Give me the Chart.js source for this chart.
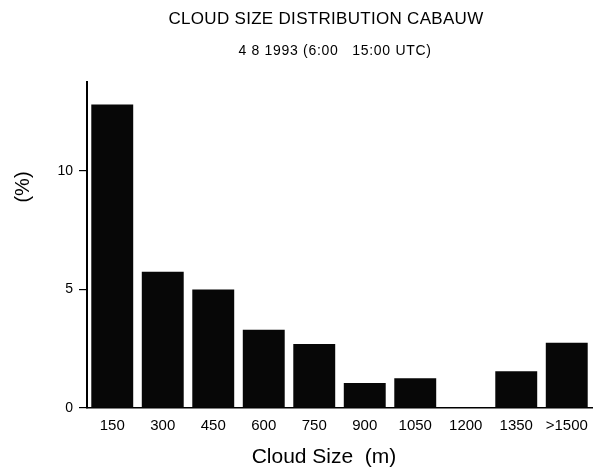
<!DOCTYPE html>
<html>
<head>
<meta charset="utf-8">
<title>Cloud Size Distribution Cabauw</title>
<script src="https://cdn.jsdelivr.net/npm/chart.js@4/dist/chart.umd.min.js"></script>
<style>
  html, body { margin: 0; padding: 0; background: #ffffff; }
  #wrap { width: 593px; height: 469px; position: relative; }
</style>
</head>
<body>
<div id="wrap"><canvas id="chart" width="593" height="469"></canvas></div>
<script>
// Cloud size classes (m) and their share of all clouds (%)
const categories = ['150', '300', '450', '600', '750', '900', '1050', '1200', '1350', '>1500'];
const percentages = [12.8, 5.75, 5.0, 3.3, 2.7, 1.05, 1.25, 0, 1.55, 2.75];
const yTickValues = [0, 5, 10];

const titleText = 'CLOUD SIZE DISTRIBUTION CABAUW';
const subtitleText = '4 8 1993 (6:00   15:00 UTC)';
const xTitleText = 'Cloud Size  (m)';
const yTitleText = '(%)';

const FONT = '"Liberation Sans", Arial, Helvetica, sans-serif';

// Headings and axis titles placed by hand around the plot area
const headingPlugin = {
  id: 'headings',
  afterDraw(chart) {
    const ctx = chart.ctx;
    ctx.save();
    ctx.fillStyle = '#000';
    ctx.textAlign = 'center';
    ctx.textBaseline = 'alphabetic';

    ctx.font = '17px ' + FONT;
    if ('letterSpacing' in ctx) ctx.letterSpacing = '0.3px';
    ctx.fillText(titleText, 326, 24);

    ctx.font = '14px ' + FONT;
    if ('letterSpacing' in ctx) ctx.letterSpacing = '0.7px';
    ctx.fillText(subtitleText, 335, 55);

    if ('letterSpacing' in ctx) ctx.letterSpacing = '0px';
    ctx.font = '21px ' + FONT;
    ctx.fillText(xTitleText, 324, 463);

    ctx.translate(29, 187);
    ctx.rotate(-Math.PI / 2);
    ctx.font = '20px ' + FONT;
    ctx.fillText(yTitleText, 0, 0);
    ctx.restore();
  }
};

new Chart(document.getElementById('chart'), {
  type: 'bar',
  data: {
    labels: categories,
    datasets: [{
      data: percentages,
      backgroundColor: '#070707',
      borderWidth: 0,
      barPercentage: 0.83,
      categoryPercentage: 1.0
    }]
  },
  options: {
    responsive: false,
    animation: false,
    events: [],
    layout: { padding: { top: 82, right: 1, bottom: 0, left: 0 } },
    plugins: {
      legend: { display: false },
      title: { display: false },
      tooltip: { enabled: false }
    },
    scales: {
      x: {
        offset: true,
        grid: { display: false, drawTicks: false },
        border: { display: true, color: '#000', width: 1.5 },
        ticks: {
          color: '#000',
          font: { family: FONT, size: 15 },
          padding: 9,
          maxRotation: 0,
          autoSkip: false
        },
        afterFit(scale) {
          scale.height = 61;
          scale.paddingLeft = 0;
          scale.paddingRight = 0;
        }
      },
      y: {
        min: 0,
        max: 13.75,
        afterBuildTicks(scale) {
          scale.ticks = yTickValues.map(v => ({ value: v }));
        },
        grid: {
          display: true,
          drawOnChartArea: false,
          drawTicks: true,
          tickLength: 8,
          color: '#000',
          lineWidth: 1.2
        },
        border: { display: true, color: '#000', width: 2 },
        ticks: {
          color: '#000',
          font: { family: FONT, size: 14 },
          padding: 6
        },
        afterFit(scale) {
          scale.width = 87;
          scale.paddingTop = 0;
          scale.paddingBottom = 0;
        }
      }
    }
  },
  plugins: [headingPlugin]
});
</script>
</body>
</html>
